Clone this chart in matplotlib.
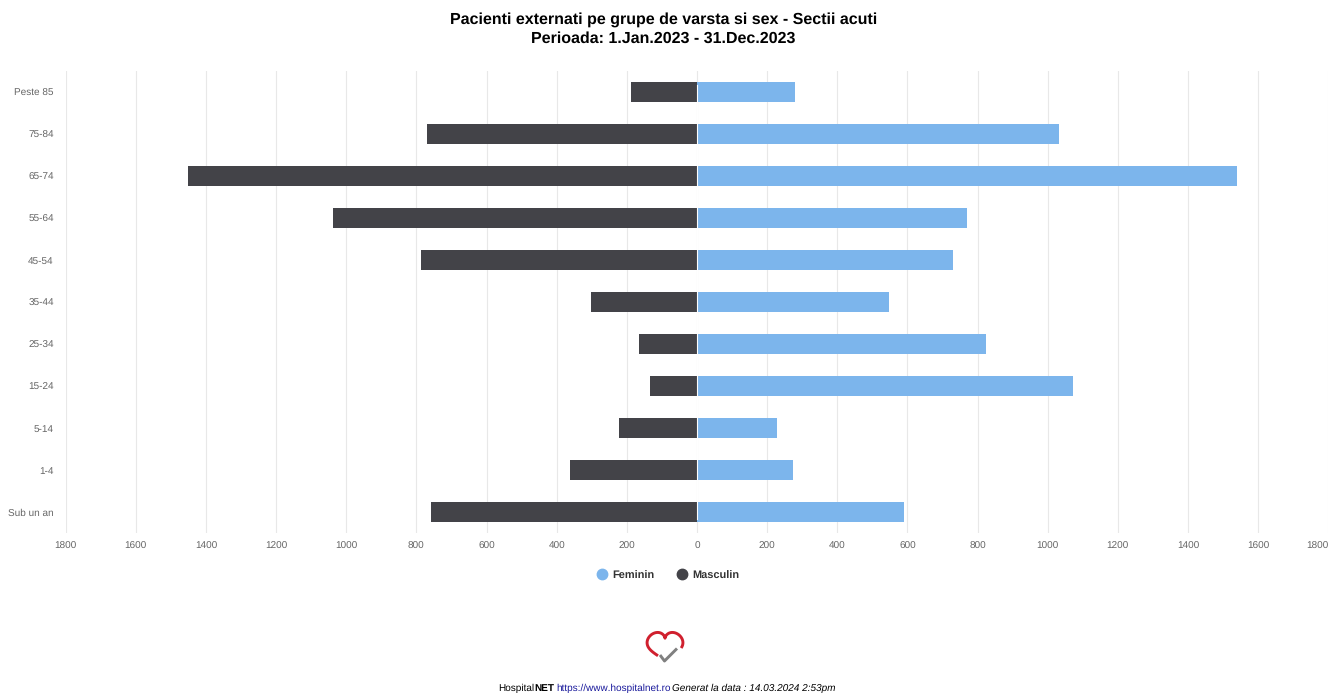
import numpy as np
import matplotlib
matplotlib.use("Agg")
import matplotlib.pyplot as plt
from matplotlib.lines import Line2D
from matplotlib.transforms import ScaledTranslation

plt.rcParams['font.family'] = ['Liberation Sans', 'DejaVu Sans']
plt.rcParams['text.hinting'] = 'no_hinting'
plt.rcParams['text.hinting_factor'] = 1

categories = ["Sub un an", "1-4", "5-14", "15-24", "25-34", "35-44", "45-54", "55-64", "65-74", "75-84", "Peste 85"]
feminin = [591, 275, 229, 1071, 823, 548, 731, 771, 1540, 1032, 280]
masculin = [758, 363, 223, 134, 165, 303, 787, 1038, 1452, 770, 189]
xticks = list(range(-1800, 1801, 200))
xticklabels = [str(abs(v)) for v in xticks]
title = "Pacienti externati pe grupe de varsta si sex - Sectii acuti\nPerioada: 1.Jan.2023 - 31.Dec.2023"

W, H = 1341, 693
C_F, C_M = "#7cb5ec", "#434348"
fig = plt.figure(figsize=(W/100, H/100), dpi=100)
L, R, T, B = 65.6, 1328.3, 71, 533
ax = fig.add_axes([L/W, 1-B/H, (R-L)/W, (B-T)/H])
y = np.arange(len(categories))
ax.barh(y, feminin, height=0.476, color=C_F, linewidth=0, zorder=3)
ax.barh(y, [-v for v in masculin], height=0.476, color=C_M, linewidth=0, zorder=3)
ax.axvline(0, color="white", lw=0.8, zorder=4, ymin=0.03, ymax=0.97)
ax.set_xlim(-1800, 1800)
ax.set_ylim(-0.5, len(categories)-0.5)
ax.set_xticks(xticks, xticklabels)
ax.set_yticks(y, categories)
ax.grid(axis="x", color="#e8e8e8", linewidth=0.8, zorder=0)
ax.set_axisbelow(True)
for s in ax.spines.values():
    s.set_visible(False)
ax.tick_params(length=0, labelsize=7.2, labelcolor="#666666")
ax.tick_params(axis="x", pad=6.2)
ax.tick_params(axis="y", pad=8.5)
last = ax.get_xticklabels()[-1]
last.set_transform(last.get_transform() + ScaledTranslation(-11/100, 0, fig.dpi_scale_trans))
ax.get_xgridlines()[-1].set_alpha(0.5)

fig.text(663.5/W, 1-29/H, title, ha="center", va="center", fontsize=11.3, fontweight="bold", color="black", linespacing=1.38)

handles = [Line2D([], [], ls="", marker="o", ms=7.5, color=C_F, label="Feminin"),
           Line2D([], [], ls="", marker="o", ms=7.5, color=C_M, label="Masculin")]
leg = fig.legend(handles=handles, loc="center", bbox_to_anchor=(667/W, 1-574.5/H), ncol=2, frameon=False,
                 prop={"size": 7.8, "weight": "bold"}, labelcolor="#333333",
                 handletextpad=0.2, columnspacing=1.9, handlelength=1.4)
for lt in leg.get_texts():
    lt.set_y(-2)

# logo
ov = fig.add_axes([0, 0, 1, 1])
ov.set_xlim(0, W); ov.set_ylim(H, 0); ov.axis("off"); ov.patch.set_alpha(0)
t = np.linspace(np.radians(-133), np.radians(105), 100)
hx = 16*np.sin(t)**3
hy = 13*np.cos(t)-3.5*np.cos(2*t)-2*np.cos(3*t)-np.cos(4*t)
ov.plot(665+hx*1.12, 645.5-hy*1.12, color="#d0202e", lw=2.1, solid_capstyle="butt")
ov.plot([660, 664.5, 677], [655, 661, 648.5], color="#808080", lw=2.1, solid_capstyle="butt")

# footer
y_f = 1-688.5/H
parts = [("Hospital", {}, "black", 498), ("NET", {"fontweight": "bold"}, "black", 534),
         ("https://www.hospitalnet.ro", {}, "#1a1a9c", 556.5),
         ("Generat la data : 14.03.2024 2:53pm", {"fontstyle": "italic"}, "black", 672.5)]
for txt, kw, col, xp in parts:
    fig.text(xp/W, y_f, txt, ha="left", va="center", fontsize=6.98, color=col, **kw)

fig.savefig("out.png", dpi=100, facecolor="white")
